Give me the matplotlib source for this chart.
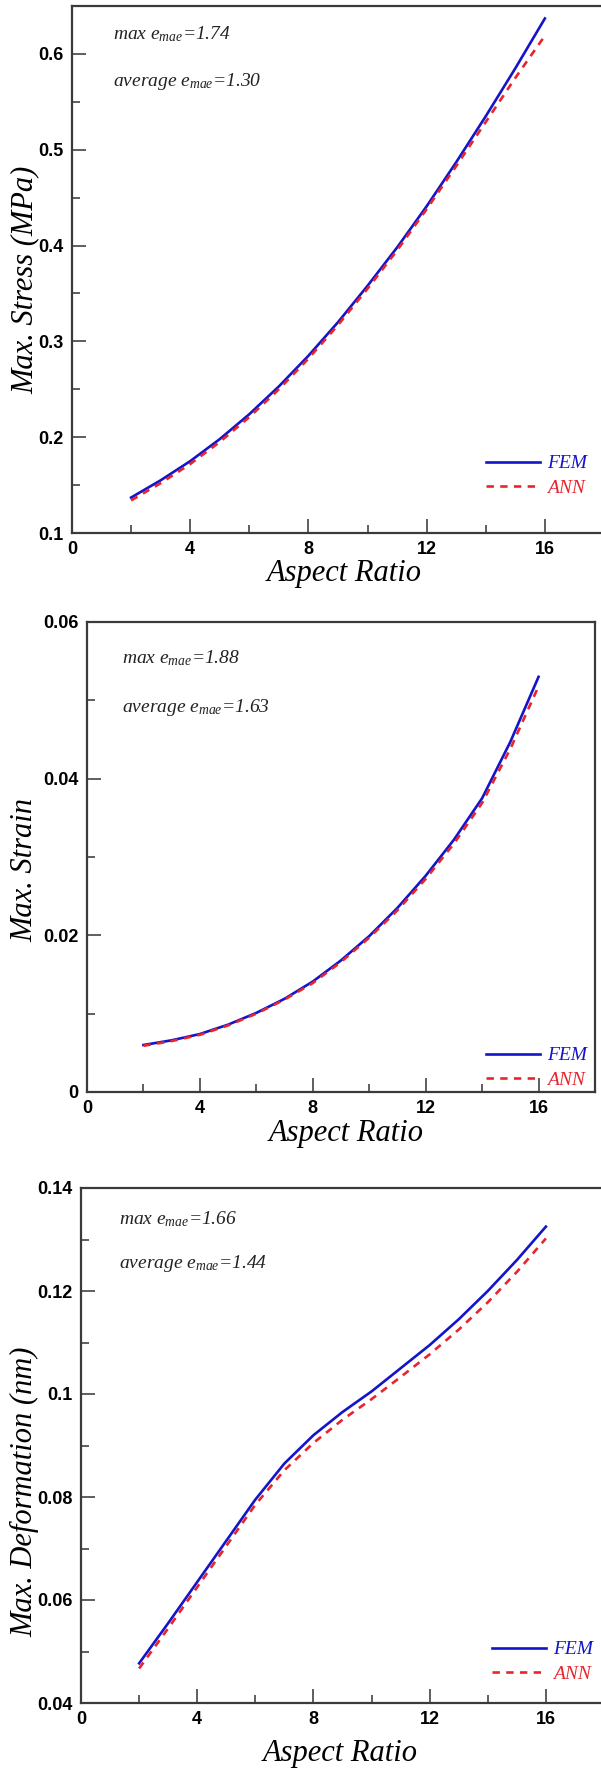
import matplotlib
matplotlib.use('Agg')
import matplotlib.pyplot as plt
from matplotlib.ticker import MultipleLocator

plt.rcParams['mathtext.fontset'] = 'custom'
plt.rcParams['mathtext.it'] = 'Liberation Serif:italic'
plt.rcParams['mathtext.rm'] = 'Liberation Serif:italic'

aspect = [2, 3, 4, 5, 6, 7, 8, 9, 10, 11, 12, 13, 14, 15, 16]

stress_fem = [0.137, 0.155, 0.175, 0.198, 0.224, 0.253, 0.285, 0.320, 0.358,
              0.398, 0.441, 0.487, 0.535, 0.585, 0.637]
stress_ann = [0.134, 0.152, 0.172, 0.195, 0.221, 0.250, 0.282, 0.317, 0.355,
              0.395, 0.438, 0.483, 0.529, 0.575, 0.619]

strain_fem = [0.0060, 0.0066, 0.0074, 0.0086, 0.0101, 0.0119, 0.0141, 0.0168,
              0.0199, 0.0235, 0.0276, 0.0322, 0.0375, 0.0447, 0.0530]
strain_ann = [0.0059, 0.0065, 0.0073, 0.0085, 0.0100, 0.0118, 0.0139, 0.0166,
              0.0197, 0.0232, 0.0272, 0.0317, 0.0369, 0.0438, 0.0518]

deform_fem = [0.0477, 0.0555, 0.0635, 0.0715, 0.0795, 0.0865, 0.0920, 0.0965,
              0.1005, 0.1050, 0.1095, 0.1145, 0.1200, 0.1260, 0.1325]
deform_ann = [0.0467, 0.0545, 0.0625, 0.0705, 0.0785, 0.0852, 0.0905, 0.0950,
              0.0990, 0.1033, 0.1077, 0.1125, 0.1178, 0.1237, 0.1302]

ylabels = ['Max. Stress (MPa)', 'Max. Strain', 'Max. Deformation (nm)']
max_err = ['1.74', '1.88', '1.66']
avg_err = ['1.30', '1.63', '1.44']

W, H = 601, 1771
BLUE = '#1414c8'
RED = '#e8252d'
SERIF = 'Liberation Serif'
SANS = 'Liberation Sans'

# left, right, top, bottom in pixels
boxes = [(72, 604, 6, 533), (87, 595, 622, 1092), (81, 604, 1188, 1703)]
ylims = [(0.1, 0.65), (0, 0.06), (0.04, 0.14)]
ymajor = [0.1, 0.02, 0.02]
yfmt = ['%.1f', None, None]
ylab_xy = [(25, 280), (25, 870), (25, 1492)]
xlab_xy = [(344, 574), (346, 1133), (340, 1754)]
notes_xy = [(113, 34, 81), (122, 658, 707), (119, 1219, 1263)]
legend_xy = [(486, 461), (486, 1053), (492, 1647)]


def px(x, y):
    return x / W, 1 - y / H


def main():
    fig = plt.figure(figsize=(W / 100, H / 100), dpi=100)
    data = [(stress_fem, stress_ann), (strain_fem, strain_ann),
            (deform_fem, deform_ann)]

    for i, (fem, ann) in enumerate(data):
        l, r, t, b = boxes[i]
        ax = fig.add_axes([l / W, 1 - b / H, (r - l) / W, (b - t) / H])
        fem_line, = ax.plot(aspect, fem, color=BLUE, lw=1.9)
        ann_line, = ax.plot(aspect, ann, color=RED, lw=1.9,
                            linestyle=(0, (2.8, 2.4)))
        ax.set_xlim(0, 18)
        ax.set_ylim(*ylims[i])
        ax.xaxis.set_major_locator(MultipleLocator(4))
        ax.xaxis.set_minor_locator(MultipleLocator(2))
        ax.yaxis.set_major_locator(MultipleLocator(ymajor[i]))
        ax.yaxis.set_minor_locator(MultipleLocator(ymajor[i] / 2))
        if yfmt[i]:
            ax.yaxis.set_major_formatter(plt.FormatStrFormatter(yfmt[i]))
        else:
            ax.yaxis.set_major_formatter(
                plt.FuncFormatter(lambda v, p: ('%g' % round(v, 4))))
        ax.tick_params(which='both', direction='in', color='#333333',
                       top=False, right=False, width=1.1)
        ax.tick_params(which='major', length=10, pad=6)
        ax.tick_params(which='minor', length=6)
        for lbl in ax.get_xticklabels() + ax.get_yticklabels():
            lbl.set_fontfamily(SANS)
            lbl.set_fontweight('bold')
            lbl.set_fontsize(13)
        for s in ax.spines.values():
            s.set_color('#3a3a3a')
            s.set_linewidth(1.6)

        fig.text(*px(*ylab_xy[i]), ylabels[i], rotation=90,
                 ha='center', va='center', family=SERIF, style='italic',
                 fontsize=22)
        fig.text(*px(*xlab_xy[i]), 'Aspect Ratio',
                 ha='center', va='center', family=SERIF, style='italic',
                 fontsize=22)

        nx, ny1, ny2 = notes_xy[i]
        fig.text(*px(nx, ny1), r'$max\ e_{mae}$=' + max_err[i], ha='left',
                 va='center', family=SERIF, style='italic', fontsize=14,
                 color='#222222')
        fig.text(*px(nx, ny2), r'$average\ e_{mae}$=' + avg_err[i],
                 ha='left', va='center', family=SERIF, style='italic',
                 fontsize=14, color='#222222')

        lx, ly = legend_xy[i]
        leg = ax.legend([fem_line, ann_line], ['FEM', 'ANN'], frameon=False,
                        loc='upper left',
                        bbox_to_anchor=px(lx - 8, ly - 14),
                        bbox_transform=fig.transFigure,
                        handlelength=2.8, handletextpad=0.35,
                        labelspacing=0.35, borderaxespad=0,
                        prop={'family': SERIF, 'style': 'italic', 'size': 14})
        leg.get_texts()[0].set_color(BLUE)
        leg.get_texts()[1].set_color(RED)

    fig.savefig('out.png', dpi=100)


if __name__ == '__main__':
    main()
